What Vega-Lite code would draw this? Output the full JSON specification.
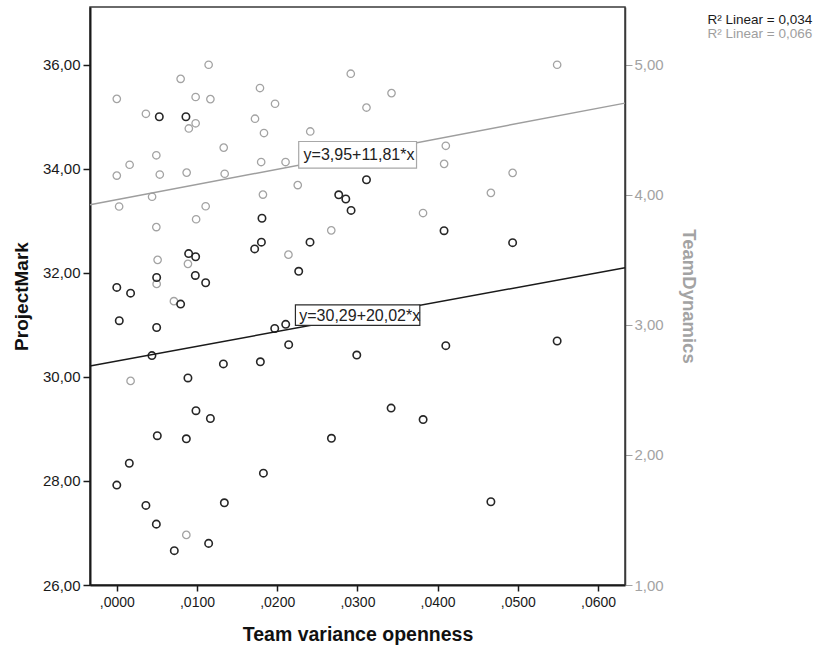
{
  "$schema": "https://vega.github.io/schema/vega-lite/v6.json",
  "width": 535,
  "height": 578,
  "autosize": {"type": "none"},
  "padding": {"left": 90, "top": 7, "right": 196, "bottom": 63},
  "background": "white",
  "config": {
    "font": "Liberation Sans",
    "view": {"stroke": "#3a3a3a", "strokeWidth": 1.5},
    "axis": {"grid": false, "labelFont": "Liberation Sans", "titleFont": "Liberation Sans"},
    "legend": {"labelFont": "Liberation Sans"}
  },
  "datasets": {
    "pm": [
      {"openness": 0.0053, "ProjectMark": 35.00}, {"openness": 0.00862, "ProjectMark": 35.00},
      {"openness": 0.0181, "ProjectMark": 33.05}, {"openness": 0.01803, "ProjectMark": 32.59},
      {"openness": 0.01719, "ProjectMark": 32.46}, {"openness": 0.03113, "ProjectMark": 33.79},
      {"openness": 0.02767, "ProjectMark": 33.50}, {"openness": 0.02855, "ProjectMark": 33.42},
      {"openness": 0.02921, "ProjectMark": 33.20}, {"openness": 0.02409, "ProjectMark": 32.59},
      {"openness": 0.02268, "ProjectMark": 32.03}, {"openness": 0.01969, "ProjectMark": 30.93},
      {"openness": 0.02106, "ProjectMark": 31.01}, {"openness": 0.0408, "ProjectMark": 32.81},
      {"openness": 0.04935, "ProjectMark": 32.58}, {"openness": 0.04102, "ProjectMark": 30.60},
      {"openness": 0.0549, "ProjectMark": 30.69}, {"openness": 0.04664, "ProjectMark": 27.60},
      {"openness": 0.02143, "ProjectMark": 30.62}, {"openness": 0.02992, "ProjectMark": 30.42},
      {"openness": 0.0342, "ProjectMark": 29.40}, {"openness": 0.03819, "ProjectMark": 29.18},
      {"openness": 0.02676, "ProjectMark": 28.82}, {"openness": 0.00896, "ProjectMark": 32.37},
      {"openness": 0.00983, "ProjectMark": 32.31}, {"openness": 0.00497, "ProjectMark": 31.91},
      {"openness": 0.0, "ProjectMark": 31.72}, {"openness": 0.00172, "ProjectMark": 31.61},
      {"openness": 0.00979, "ProjectMark": 31.95}, {"openness": 0.01108, "ProjectMark": 31.81},
      {"openness": 0.00796, "ProjectMark": 31.40}, {"openness": 0.00031, "ProjectMark": 31.08},
      {"openness": 0.00497, "ProjectMark": 30.95}, {"openness": 0.00438, "ProjectMark": 30.41},
      {"openness": 0.01329, "ProjectMark": 30.25}, {"openness": 0.0179, "ProjectMark": 30.29},
      {"openness": 0.00887, "ProjectMark": 29.98}, {"openness": 0.00987, "ProjectMark": 29.35},
      {"openness": 0.01167, "ProjectMark": 29.20}, {"openness": 0.00505, "ProjectMark": 28.87},
      {"openness": 0.00867, "ProjectMark": 28.81}, {"openness": 0.00156, "ProjectMark": 28.34},
      {"openness": 0.0, "ProjectMark": 27.92}, {"openness": 0.01828, "ProjectMark": 28.15},
      {"openness": 0.00363, "ProjectMark": 27.53}, {"openness": 0.01341, "ProjectMark": 27.58},
      {"openness": 0.00493, "ProjectMark": 27.17}, {"openness": 0.01145, "ProjectMark": 26.80},
      {"openness": 0.00717, "ProjectMark": 26.66}
    ],
    "td": [
      {"openness": 0.0, "TeamDynamics": 4.738}, {"openness": 0.00363, "TeamDynamics": 4.623},
      {"openness": 0.00796, "TeamDynamics": 4.892}, {"openness": 0.01145, "TeamDynamics": 5.0},
      {"openness": 0.00983, "TeamDynamics": 4.752}, {"openness": 0.01167, "TeamDynamics": 4.736},
      {"openness": 0.00983, "TeamDynamics": 4.55}, {"openness": 0.00898, "TeamDynamics": 4.51},
      {"openness": 0.00493, "TeamDynamics": 4.304}, {"openness": 0.0016, "TeamDynamics": 4.231},
      {"openness": 0.0, "TeamDynamics": 4.148}, {"openness": 0.00536, "TeamDynamics": 4.156},
      {"openness": 0.00871, "TeamDynamics": 4.171}, {"openness": 0.01333, "TeamDynamics": 4.363},
      {"openness": 0.01345, "TeamDynamics": 4.162}, {"openness": 0.0044, "TeamDynamics": 3.985},
      {"openness": 0.00029, "TeamDynamics": 3.91}, {"openness": 0.01108, "TeamDynamics": 3.912},
      {"openness": 0.00989, "TeamDynamics": 3.812}, {"openness": 0.00493, "TeamDynamics": 3.752},
      {"openness": 0.01723, "TeamDynamics": 4.585}, {"openness": 0.01785, "TeamDynamics": 4.821},
      {"openness": 0.01973, "TeamDynamics": 4.7}, {"openness": 0.01835, "TeamDynamics": 4.475},
      {"openness": 0.018, "TeamDynamics": 4.252}, {"openness": 0.02104, "TeamDynamics": 4.252},
      {"openness": 0.01822, "TeamDynamics": 4.002}, {"openness": 0.02256, "TeamDynamics": 4.075},
      {"openness": 0.02917, "TeamDynamics": 4.931}, {"openness": 0.03425, "TeamDynamics": 4.782},
      {"openness": 0.03113, "TeamDynamics": 4.671}, {"openness": 0.02412, "TeamDynamics": 4.487},
      {"openness": 0.03818, "TeamDynamics": 3.86}, {"openness": 0.02674, "TeamDynamics": 3.727},
      {"openness": 0.0214, "TeamDynamics": 3.54}, {"openness": 0.0549, "TeamDynamics": 5.0},
      {"openness": 0.04102, "TeamDynamics": 4.377}, {"openness": 0.04081, "TeamDynamics": 4.238},
      {"openness": 0.04935, "TeamDynamics": 4.169}, {"openness": 0.04664, "TeamDynamics": 4.015},
      {"openness": 0.00509, "TeamDynamics": 3.5}, {"openness": 0.00887, "TeamDynamics": 3.469},
      {"openness": 0.00497, "TeamDynamics": 3.315}, {"openness": 0.00712, "TeamDynamics": 3.182},
      {"openness": 0.00172, "TeamDynamics": 2.569}, {"openness": 0.00867, "TeamDynamics": 1.385}
    ],
    "fitPM": [
      {"fit": "R² Linear = 0,034", "openness": -0.00334, "ProjectMark": 30.21},
      {"fit": "R² Linear = 0,034", "openness": 0.06336, "ProjectMark": 32.10}
    ],
    "fitTD": [
      {"fit": "R² Linear = 0,066", "openness": -0.00334, "TeamDynamics": 3.923},
      {"fit": "R² Linear = 0,066", "openness": 0.06336, "TeamDynamics": 4.705}
    ],
    "eqPM": [
      {"label": "y=30,29+20,02*x", "x1": 0.02227, "x2": 0.03778, "y1": 30.99, "y2": 31.385, "tx": 0.03029, "ty": 31.18}
    ],
    "eqTD": [
      {"label": "y=3,95+11,81*x", "x1": 0.02268, "x2": 0.03737, "y1": 4.205, "y2": 4.41, "tx": 0.0302, "ty": 4.304}
    ]
  },
  "layer": [
    {
      "layer": [
        {
          "data": {"name": "td"},
          "mark": {"type": "point", "shape": "circle", "filled": false, "stroke": "#a3a3a3", "strokeWidth": 1.3, "size": 55, "opacity": 1},
          "encoding": {
            "x": {"field": "openness", "type": "quantitative", "scale": {"domain": [-0.00334, 0.06336], "nice": false, "zero": false},
              "axis": {"title": "Team variance openness", "values": [0, 0.01, 0.02, 0.03, 0.04, 0.05, 0.06], "labelExpr": "replace(format(datum.value,'.4f'),'0.',',')", "labelFontSize": 14, "labelColor": "#1a1a1a", "tickColor": "#1a1a1a", "tickSize": 6, "tickWidth": 1.5, "domainColor": "#1a1a1a", "domainWidth": 2, "labelPadding": 4, "titleFontSize": 19.5, "titleFontWeight": "bold", "titleColor": "#111111", "titlePadding": 16, "labelFlush": false}},
            "y": {"field": "TeamDynamics", "type": "quantitative", "scale": {"domain": [1, 5.444], "nice": false, "zero": false},
              "axis": {"orient": "right", "title": "TeamDynamics", "values": [1, 2, 3, 4, 5], "labelExpr": "replace(format(datum.value,'.2f'),'.',',')", "labelFontSize": 15, "labelColor": "#a3a3a3", "tickColor": "#a3a3a3", "tickSize": 7, "tickWidth": 1, "domainColor": "#3a3a3a", "domainWidth": 1.5, "labelPadding": 2, "titleFontSize": 18.5, "titleFontWeight": "bold", "titleColor": "#a3a3a3", "titlePadding": 15}}
          }
        },
        {
          "data": {"name": "fitTD"},
          "mark": {"type": "line", "strokeWidth": 1.5},
          "encoding": {
            "x": {"field": "openness", "type": "quantitative", "scale": {"domain": [-0.00334, 0.06336], "nice": false, "zero": false},
              "axis": {"title": "Team variance openness", "values": [0, 0.01, 0.02, 0.03, 0.04, 0.05, 0.06], "labelExpr": "replace(format(datum.value,'.4f'),'0.',',')", "labelFontSize": 14, "labelColor": "#1a1a1a", "tickColor": "#1a1a1a", "tickSize": 6, "tickWidth": 1.5, "domainColor": "#1a1a1a", "domainWidth": 2, "labelPadding": 4, "titleFontSize": 19.5, "titleFontWeight": "bold", "titleColor": "#111111", "titlePadding": 16, "labelFlush": false}},
            "y": {"field": "TeamDynamics", "type": "quantitative", "scale": {"domain": [1, 5.444], "nice": false, "zero": false},
              "axis": {"orient": "right", "title": "TeamDynamics", "values": [1, 2, 3, 4, 5], "labelExpr": "replace(format(datum.value,'.2f'),'.',',')", "labelFontSize": 15, "labelColor": "#a3a3a3", "tickColor": "#a3a3a3", "tickSize": 7, "tickWidth": 1, "domainColor": "#3a3a3a", "domainWidth": 1.5, "labelPadding": 2, "titleFontSize": 18.5, "titleFontWeight": "bold", "titleColor": "#a3a3a3", "titlePadding": 15}},
            "color": {"field": "fit", "type": "nominal", "scale": {"domain": ["R² Linear = 0,034", "R² Linear = 0,066"], "range": ["#1a1a1a", "#9e9e9e"]},
              "legend": {"orient": "none", "legendX": 604, "legendY": 6, "title": null, "symbolSize": 0, "symbolStrokeWidth": 0, "symbolOpacity": 0, "labelOffset": 0, "labelFontSize": 13.5, "rowPadding": -1, "padding": 0,
                "encode": {"labels": {"update": {"fill": {"scale": "color", "field": "value"}}}}}}
          }
        },
        {
          "data": {"name": "eqTD"},
          "mark": {"type": "rect", "fill": "white", "stroke": "#a8a8a8", "strokeWidth": 1.2},
          "encoding": {
            "x": {"field": "x1", "type": "quantitative", "scale": {"domain": [-0.00334, 0.06336], "nice": false, "zero": false},
              "axis": {"title": "Team variance openness", "values": [0, 0.01, 0.02, 0.03, 0.04, 0.05, 0.06], "labelExpr": "replace(format(datum.value,'.4f'),'0.',',')", "labelFontSize": 14, "labelColor": "#1a1a1a", "tickColor": "#1a1a1a", "tickSize": 6, "tickWidth": 1.5, "domainColor": "#1a1a1a", "domainWidth": 2, "labelPadding": 4, "titleFontSize": 19.5, "titleFontWeight": "bold", "titleColor": "#111111", "titlePadding": 16, "labelFlush": false}},
            "x2": {"field": "x2"},
            "y": {"field": "y1", "type": "quantitative", "scale": {"domain": [1, 5.444], "nice": false, "zero": false},
              "axis": {"orient": "right", "title": "TeamDynamics", "values": [1, 2, 3, 4, 5], "labelExpr": "replace(format(datum.value,'.2f'),'.',',')", "labelFontSize": 15, "labelColor": "#a3a3a3", "tickColor": "#a3a3a3", "tickSize": 7, "tickWidth": 1, "domainColor": "#3a3a3a", "domainWidth": 1.5, "labelPadding": 2, "titleFontSize": 18.5, "titleFontWeight": "bold", "titleColor": "#a3a3a3", "titlePadding": 15}},
            "y2": {"field": "y2"}
          }
        },
        {
          "data": {"name": "eqTD"},
          "mark": {"type": "text", "fontSize": 16, "font": "Liberation Sans", "color": "#222222", "align": "center", "baseline": "middle"},
          "encoding": {
            "x": {"field": "tx", "type": "quantitative", "scale": {"domain": [-0.00334, 0.06336], "nice": false, "zero": false},
              "axis": {"title": "Team variance openness", "values": [0, 0.01, 0.02, 0.03, 0.04, 0.05, 0.06], "labelExpr": "replace(format(datum.value,'.4f'),'0.',',')", "labelFontSize": 14, "labelColor": "#1a1a1a", "tickColor": "#1a1a1a", "tickSize": 6, "tickWidth": 1.5, "domainColor": "#1a1a1a", "domainWidth": 2, "labelPadding": 4, "titleFontSize": 19.5, "titleFontWeight": "bold", "titleColor": "#111111", "titlePadding": 16, "labelFlush": false}},
            "y": {"field": "ty", "type": "quantitative", "scale": {"domain": [1, 5.444], "nice": false, "zero": false},
              "axis": {"orient": "right", "title": "TeamDynamics", "values": [1, 2, 3, 4, 5], "labelExpr": "replace(format(datum.value,'.2f'),'.',',')", "labelFontSize": 15, "labelColor": "#a3a3a3", "tickColor": "#a3a3a3", "tickSize": 7, "tickWidth": 1, "domainColor": "#3a3a3a", "domainWidth": 1.5, "labelPadding": 2, "titleFontSize": 18.5, "titleFontWeight": "bold", "titleColor": "#a3a3a3", "titlePadding": 15}},
            "text": {"field": "label", "type": "nominal"}
          }
        }
      ]
    },
    {
      "layer": [
        {
          "data": {"name": "pm"},
          "mark": {"type": "point", "shape": "circle", "filled": false, "stroke": "#262626", "strokeWidth": 1.6, "size": 55, "opacity": 1},
          "encoding": {
            "x": {"field": "openness", "type": "quantitative", "scale": {"domain": [-0.00334, 0.06336], "nice": false, "zero": false},
              "axis": {"title": "Team variance openness", "values": [0, 0.01, 0.02, 0.03, 0.04, 0.05, 0.06], "labelExpr": "replace(format(datum.value,'.4f'),'0.',',')", "labelFontSize": 14, "labelColor": "#1a1a1a", "tickColor": "#1a1a1a", "tickSize": 6, "tickWidth": 1.5, "domainColor": "#1a1a1a", "domainWidth": 2, "labelPadding": 4, "titleFontSize": 19.5, "titleFontWeight": "bold", "titleColor": "#111111", "titlePadding": 16, "labelFlush": false}},
            "y": {"field": "ProjectMark", "type": "quantitative", "scale": {"domain": [26, 37.11], "nice": false, "zero": false},
              "axis": {"orient": "left", "title": "ProjectMark", "values": [26, 28, 30, 32, 34, 36], "labelExpr": "replace(format(datum.value,'.2f'),'.',',')", "labelFontSize": 15, "labelColor": "#1a1a1a", "tickColor": "#1a1a1a", "tickSize": 7, "tickWidth": 1.5, "domainColor": "#1a1a1a", "domainWidth": 2, "labelPadding": 3, "titleFontSize": 19, "titleFontWeight": "bold", "titleColor": "#111111", "titlePadding": 11}}
          }
        },
        {
          "data": {"name": "fitPM"},
          "mark": {"type": "line", "strokeWidth": 1.5},
          "encoding": {
            "x": {"field": "openness", "type": "quantitative", "scale": {"domain": [-0.00334, 0.06336], "nice": false, "zero": false},
              "axis": {"title": "Team variance openness", "values": [0, 0.01, 0.02, 0.03, 0.04, 0.05, 0.06], "labelExpr": "replace(format(datum.value,'.4f'),'0.',',')", "labelFontSize": 14, "labelColor": "#1a1a1a", "tickColor": "#1a1a1a", "tickSize": 6, "tickWidth": 1.5, "domainColor": "#1a1a1a", "domainWidth": 2, "labelPadding": 4, "titleFontSize": 19.5, "titleFontWeight": "bold", "titleColor": "#111111", "titlePadding": 16, "labelFlush": false}},
            "y": {"field": "ProjectMark", "type": "quantitative", "scale": {"domain": [26, 37.11], "nice": false, "zero": false},
              "axis": {"orient": "left", "title": "ProjectMark", "values": [26, 28, 30, 32, 34, 36], "labelExpr": "replace(format(datum.value,'.2f'),'.',',')", "labelFontSize": 15, "labelColor": "#1a1a1a", "tickColor": "#1a1a1a", "tickSize": 7, "tickWidth": 1.5, "domainColor": "#1a1a1a", "domainWidth": 2, "labelPadding": 3, "titleFontSize": 19, "titleFontWeight": "bold", "titleColor": "#111111", "titlePadding": 11}},
            "color": {"field": "fit", "type": "nominal", "scale": {"domain": ["R² Linear = 0,034", "R² Linear = 0,066"], "range": ["#1a1a1a", "#9e9e9e"]},
              "legend": {"orient": "none", "legendX": 604, "legendY": 6, "title": null, "symbolSize": 0, "symbolStrokeWidth": 0, "symbolOpacity": 0, "labelOffset": 0, "labelFontSize": 13.5, "rowPadding": -1, "padding": 0,
                "encode": {"labels": {"update": {"fill": {"scale": "color", "field": "value"}}}}}}
          }
        },
        {
          "data": {"name": "eqPM"},
          "mark": {"type": "rect", "fill": "white", "stroke": "#2a2a2a", "strokeWidth": 1.2},
          "encoding": {
            "x": {"field": "x1", "type": "quantitative", "scale": {"domain": [-0.00334, 0.06336], "nice": false, "zero": false},
              "axis": {"title": "Team variance openness", "values": [0, 0.01, 0.02, 0.03, 0.04, 0.05, 0.06], "labelExpr": "replace(format(datum.value,'.4f'),'0.',',')", "labelFontSize": 14, "labelColor": "#1a1a1a", "tickColor": "#1a1a1a", "tickSize": 6, "tickWidth": 1.5, "domainColor": "#1a1a1a", "domainWidth": 2, "labelPadding": 4, "titleFontSize": 19.5, "titleFontWeight": "bold", "titleColor": "#111111", "titlePadding": 16, "labelFlush": false}},
            "x2": {"field": "x2"},
            "y": {"field": "y1", "type": "quantitative", "scale": {"domain": [26, 37.11], "nice": false, "zero": false},
              "axis": {"orient": "left", "title": "ProjectMark", "values": [26, 28, 30, 32, 34, 36], "labelExpr": "replace(format(datum.value,'.2f'),'.',',')", "labelFontSize": 15, "labelColor": "#1a1a1a", "tickColor": "#1a1a1a", "tickSize": 7, "tickWidth": 1.5, "domainColor": "#1a1a1a", "domainWidth": 2, "labelPadding": 3, "titleFontSize": 19, "titleFontWeight": "bold", "titleColor": "#111111", "titlePadding": 11}},
            "y2": {"field": "y2"}
          }
        },
        {
          "data": {"name": "eqPM"},
          "mark": {"type": "text", "fontSize": 16, "font": "Liberation Sans", "color": "#222222", "align": "center", "baseline": "middle"},
          "encoding": {
            "x": {"field": "tx", "type": "quantitative", "scale": {"domain": [-0.00334, 0.06336], "nice": false, "zero": false},
              "axis": {"title": "Team variance openness", "values": [0, 0.01, 0.02, 0.03, 0.04, 0.05, 0.06], "labelExpr": "replace(format(datum.value,'.4f'),'0.',',')", "labelFontSize": 14, "labelColor": "#1a1a1a", "tickColor": "#1a1a1a", "tickSize": 6, "tickWidth": 1.5, "domainColor": "#1a1a1a", "domainWidth": 2, "labelPadding": 4, "titleFontSize": 19.5, "titleFontWeight": "bold", "titleColor": "#111111", "titlePadding": 16, "labelFlush": false}},
            "y": {"field": "ty", "type": "quantitative", "scale": {"domain": [26, 37.11], "nice": false, "zero": false},
              "axis": {"orient": "left", "title": "ProjectMark", "values": [26, 28, 30, 32, 34, 36], "labelExpr": "replace(format(datum.value,'.2f'),'.',',')", "labelFontSize": 15, "labelColor": "#1a1a1a", "tickColor": "#1a1a1a", "tickSize": 7, "tickWidth": 1.5, "domainColor": "#1a1a1a", "domainWidth": 2, "labelPadding": 3, "titleFontSize": 19, "titleFontWeight": "bold", "titleColor": "#111111", "titlePadding": 11}},
            "text": {"field": "label", "type": "nominal"}
          }
        }
      ]
    }
  ],
  "resolve": {"scale": {"y": "independent"}}
}
